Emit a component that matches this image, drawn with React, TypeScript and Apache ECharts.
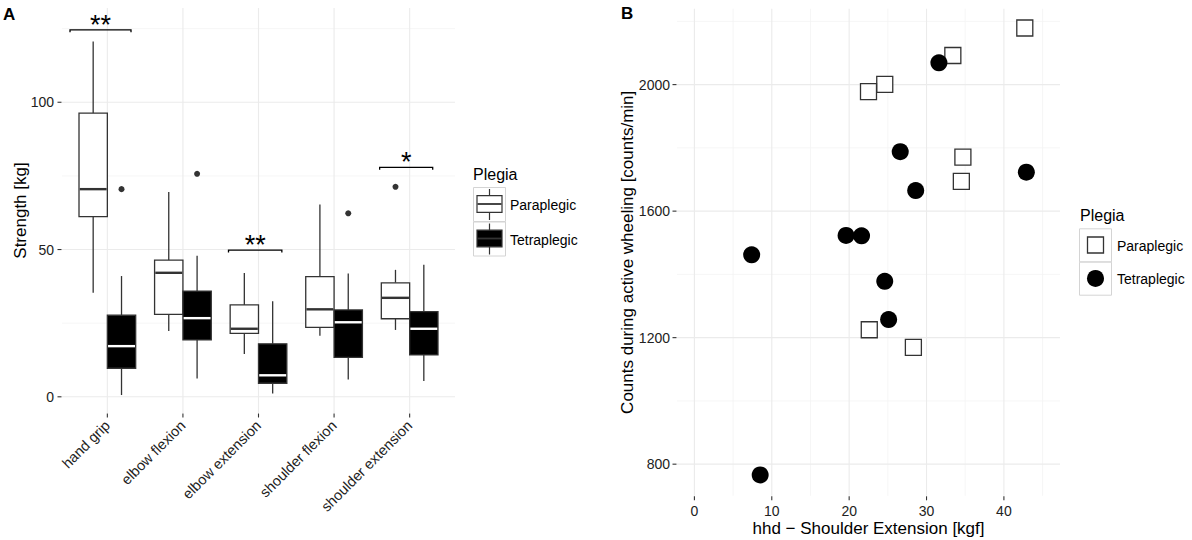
import React, { useEffect, useRef } from 'react';
import * as echarts from 'echarts';

// ---------- Panel A data ----------
const categories = ['hand grip', 'elbow flexion', 'elbow extension', 'shoulder flexion', 'shoulder extension'];
const groups = ['Paraplegic', 'Tetraplegic'];

const paraLow = [35.3, 22.3, 14.5, 20.7, 22.7];
const paraQ1 = [61.2, 28.0, 21.5, 23.6, 26.5];
const paraMed = [70.5, 42.1, 23.1, 29.7, 33.6];
const paraQ3 = [96.3, 46.4, 31.2, 40.8, 38.7];
const paraHigh = [120.6, 69.5, 42.0, 65.3, 43.1];

const tetraLow = [0.6, 6.2, 1.1, 5.9, 5.4];
const tetraQ1 = [9.7, 19.3, 4.6, 13.4, 14.2];
const tetraMed = [17.2, 26.7, 7.3, 25.3, 23.1];
const tetraQ3 = [27.7, 35.9, 18.0, 29.5, 28.9];
const tetraHigh = [41.0, 47.9, 32.4, 41.9, 44.8];

const paraOutlierCat = ['shoulder extension'];
const paraOutlierVal = [71.3];
const tetraOutlierCat = ['hand grip', 'elbow flexion', 'shoulder flexion'];
const tetraOutlierVal = [70.5, 75.7, 62.3];

const sigCategory = ['hand grip', 'elbow extension', 'shoulder extension'];
const sigHeight = [124.6, 49.8, 77.9];
const sigLeft = [-0.494, -0.397, -0.397];
const sigRight = [0.313, 0.309, 0.305];
const sigLabel = ['**', '**', '*'];

const strengthTicks = [0, 50, 100];
const strengthMinor = [25, 75, 125];

// ---------- Panel B data ----------
const paraX = [42.7, 33.4, 24.6, 22.5, 34.7, 34.5, 22.6, 28.3];
const paraY = [2179, 2092, 2001, 1978, 1771, 1694, 1225, 1169];
const tetraX = [31.6, 26.6, 42.9, 28.6, 19.6, 21.6, 7.4, 24.6, 25.1, 8.5];
const tetraY = [2069, 1788, 1723, 1665, 1523, 1522, 1462, 1378, 1257, 766];

const hhdTicks = [0, 10, 20, 30, 40];
const hhdMinor = [5, 15, 25, 35, 45];
const countTicks = [800, 1200, 1600, 2000];
const countMinor = [1000, 1400, 1800, 2200];

const FONT = '"Liberation Sans", Arial, Helvetica, sans-serif';
const DODGE = 0.1875;
const BOX_HALF = 0.1875;
const MAJOR = '#ebebeb';
const MINOR = '#f4f4f4';
const INK = '#333333';

function hLines(xi: number, yi: number, values: number[], color: string, width: number) {
  return {
    type: 'custom', xAxisIndex: xi, yAxisIndex: yi, silent: true, z: 1,
    data: values.map((v) => [0, v]),
    encode: { x: 0, y: 1 },
    renderItem: (params: any, api: any) => {
      const cs = params.coordSys;
      const y = api.coord([0, api.value(1)])[1];
      return { type: 'line', shape: { x1: cs.x, y1: y, x2: cs.x + cs.width, y2: y }, style: { stroke: color, lineWidth: width } };
    },
  };
}

function vLines(xi: number, yi: number, values: number[], color: string, width: number) {
  return {
    type: 'custom', xAxisIndex: xi, yAxisIndex: yi, silent: true, z: 1,
    data: values.map((v) => [v, 0]),
    encode: { x: 0, y: 1 },
    renderItem: (params: any, api: any) => {
      const cs = params.coordSys;
      const x = api.coord([api.value(0), 0])[0];
      return { type: 'line', shape: { x1: x, y1: cs.y, x2: x, y2: cs.y + cs.height }, style: { stroke: color, lineWidth: width } };
    },
  };
}

// axis tick marks outside the panel
function yTicks(xi: number, yi: number, values: number[]) {
  return {
    type: 'custom', xAxisIndex: xi, yAxisIndex: yi, silent: true, z: 2, clip: false,
    data: values.map((v) => [0, v]),
    encode: { x: 0, y: 1 },
    renderItem: (params: any, api: any) => {
      const cs = params.coordSys;
      const y = api.coord([0, api.value(1)])[1];
      return { type: 'line', shape: { x1: cs.x - 4.5, y1: y, x2: cs.x - 0.5, y2: y }, style: { stroke: INK, lineWidth: 1.1 } };
    },
  };
}

function xTicks(xi: number, yi: number, values: number[]) {
  return {
    type: 'custom', xAxisIndex: xi, yAxisIndex: yi, silent: true, z: 2, clip: false,
    data: values.map((v) => [v, 0]),
    encode: { x: 0, y: 1 },
    renderItem: (params: any, api: any) => {
      const cs = params.coordSys;
      const x = api.coord([api.value(0), 0])[0];
      const b = cs.y + cs.height;
      return { type: 'line', shape: { x1: x, y1: b + 0.5, x2: x, y2: b + 4.5 }, style: { stroke: INK, lineWidth: 1.1 } };
    },
  };
}

function boxSeries(name: string, low: number[], q1: number[], med: number[], q3: number[], high: number[], offset: number, fill: string, medColor: string) {
  return {
    type: 'custom', name, xAxisIndex: 0, yAxisIndex: 0, z: 3,
    data: categories.map((_, i) => [i, low[i], q1[i], med[i], q3[i], high[i]]),
    encode: { x: 0, y: [1, 2, 3, 4, 5] },
    renderItem: (params: any, api: any) => {
      const i = api.value(0);
      const unit = api.size([1, 0])[0];
      const half = unit * BOX_HALF;
      const cx = api.coord([i + offset, 0])[0];
      const yy = (k: number) => api.coord([i, api.value(k)])[1];
      const yLow = yy(1), yQ1 = yy(2), yMed = yy(3), yQ3 = yy(4), yHigh = yy(5);
      return {
        type: 'group',
        children: [
          { type: 'line', shape: { x1: cx, y1: yQ3, x2: cx, y2: yHigh }, style: { stroke: INK, lineWidth: 1.3 } },
          { type: 'line', shape: { x1: cx, y1: yLow, x2: cx, y2: yQ1 }, style: { stroke: INK, lineWidth: 1.3 } },
          { type: 'rect', shape: { x: cx - half, y: yQ3, width: 2 * half, height: yQ1 - yQ3 }, style: { fill, stroke: INK, lineWidth: 1.3 } },
          { type: 'line', shape: { x1: cx - half + 0.7, y1: yMed, x2: cx + half - 0.7, y2: yMed }, style: { stroke: medColor, lineWidth: 2.4 } },
        ],
      };
    },
  };
}

function outlierSeries(cats: string[], vals: number[], offset: number) {
  return {
    type: 'scatter', xAxisIndex: 0, yAxisIndex: 0, z: 4, symbol: 'circle', symbolSize: 6,
    itemStyle: { color: INK, opacity: 1 },
    data: cats.map((c, k) => [categories.indexOf(c) + offset, vals[k]]),
  };
}

const bracketSeries = {
  type: 'custom', xAxisIndex: 0, yAxisIndex: 0, z: 5,
  data: sigCategory.map((c, k) => [categories.indexOf(c), sigHeight[k], sigLeft[k], sigRight[k]]),
  encode: { x: 0, y: 1 },
  renderItem: (params: any, api: any) => {
    const i = api.value(0);
    const h = api.value(1);
    const p1 = api.coord([i + api.value(2), h]);
    const p2 = api.coord([i + api.value(3), h]);
    const drop = api.coord([i, h - 0.8])[1];
    return {
      type: 'group',
      children: [
        { type: 'polyline', shape: { points: [[p1[0], drop], [p1[0], p1[1]], [p2[0], p1[1]], [p2[0], drop]] }, style: { stroke: '#000', lineWidth: 1.3, fill: 'none' } },
        { type: 'text', x: (p1[0] + p2[0]) / 2, y: p1[1] - 5, style: { text: sigLabel[params.dataIndex], fill: '#000', font: `27px ${FONT}`, align: 'center', verticalAlign: 'middle' } },
      ],
    };
  },
};

function txt(text: string, x: number, y: number, size: number, opts: any = {}) {
  return {
    type: 'text', x, y, rotation: opts.rotation || 0, silent: true,
    style: { text, fill: opts.color || '#000', font: `${opts.bold ? 'bold ' : ''}${size}px ${FONT}`, align: opts.align || 'left', verticalAlign: 'middle' },
  };
}

function buildGraphics() {
  const g: any[] = [];
  g.push(txt('A', 3, 14, 17, { bold: true }));
  g.push(txt('B', 621, 13, 17, { bold: true }));
  g.push(txt('Strength [kg]', 20, 210.5, 17, { rotation: Math.PI / 2, align: 'center' }));
  g.push(txt('Counts during active wheeling [counts/min]', 627, 252.3, 17, { rotation: Math.PI / 2, align: 'center' }));
  g.push(txt('hhd \u2212 Shoulder Extension [kgf]', 868.5, 528, 17, { align: 'center' }));

  // Legend A
  g.push(txt('Plegia', 473, 174, 16));
  const keyA = [{ top: 187, fill: '#fff' }, { top: 221.5, fill: '#000' }];
  keyA.forEach((k, idx) => {
    const cy = k.top + 17;
    g.push({ type: 'rect', silent: true, shape: { x: 473.5, y: k.top + 0.5, width: 32, height: 34 }, style: { fill: '#fff', stroke: '#d4d4d4', lineWidth: 1 } });
    g.push({ type: 'line', silent: true, shape: { x1: 489.5, y1: k.top + 2, x2: 489.5, y2: k.top + 33 }, style: { stroke: INK, lineWidth: 1.2 } });
    g.push({ type: 'rect', silent: true, shape: { x: 477, y: cy - 8.3, width: 25, height: 16.6 }, style: { fill: k.fill, stroke: INK, lineWidth: 1.2 } });
    g.push({ type: 'line', silent: true, shape: { x1: 477.5, y1: cy, x2: 501.5, y2: cy }, style: { stroke: INK, lineWidth: 1.8 } });
    g.push(txt(groups[idx], 510, cy + 1, 14));
  });

  // Legend B
  g.push(txt('Plegia', 1080, 215, 16));
  [228.3, 261.7].forEach((top, idx) => {
    g.push({ type: 'rect', silent: true, shape: { x: 1079.5, y: top + 0.5, width: 32, height: 33 }, style: { fill: '#fff', stroke: '#d4d4d4', lineWidth: 1 } });
    g.push(txt(groups[idx], 1117, top + 17.5, 14));
  });
  g.push({ type: 'rect', silent: true, shape: { x: 1087.5, y: 237, width: 16, height: 16 }, style: { fill: '#fff', stroke: INK, lineWidth: 1.3 } });
  g.push({ type: 'circle', silent: true, shape: { cx: 1095.5, cy: 278.4, r: 8.5 }, style: { fill: '#000' } });
  return g;
}

const axisLabelStyle = { color: '#222', fontSize: 14, fontFamily: FONT };
const plain = (v: number) => String(v);

export default function App() {
  const ref = useRef<HTMLDivElement>(null);
  useEffect(() => {
    if (!ref.current) return;
    const chart = echarts.init(ref.current, null, { renderer: 'svg' });
    const catIdx = categories.map((_, i) => i);
    chart.setOption({
      animation: false,
      backgroundColor: '#fff',
      grid: [
        { left: 62, top: 8, width: 393, height: 405 },
        { left: 677, top: 8.7, width: 383, height: 487.1 },
      ],
      xAxis: [
        {
          gridIndex: 0, type: 'value', min: -0.6, max: 4.6,
          axisLine: { show: false }, splitLine: { show: false }, axisTick: { show: false },
          axisLabel: { ...axisLabelStyle, fontSize: 14.5, customValues: catIdx, rotate: 45, margin: 10, formatter: (v: number) => categories[Math.round(v)] ?? '' },
        },
        {
          gridIndex: 1, type: 'value', min: -2.25, max: 47.25,
          axisLine: { show: false }, splitLine: { show: false }, axisTick: { show: false },
          axisLabel: { ...axisLabelStyle, customValues: hhdTicks, margin: 8, formatter: plain },
        },
      ],
      yAxis: [
        {
          gridIndex: 0, type: 'value', min: -5.5, max: 132,
          axisLine: { show: false }, splitLine: { show: false }, axisTick: { show: false },
          axisLabel: { ...axisLabelStyle, customValues: strengthTicks, margin: 8, formatter: plain },
        },
        {
          gridIndex: 1, type: 'value', min: 700, max: 2240,
          axisLine: { show: false }, splitLine: { show: false }, axisTick: { show: false },
          axisLabel: { ...axisLabelStyle, customValues: countTicks, margin: 7, formatter: plain },
        },
      ],
      series: [
        hLines(0, 0, strengthMinor, MINOR, 0.8),
        hLines(0, 0, strengthTicks, MAJOR, 1.1),
        vLines(0, 0, catIdx, MAJOR, 1.1),
        yTicks(0, 0, strengthTicks),
        xTicks(0, 0, catIdx),
        hLines(1, 1, countMinor, MINOR, 0.8),
        vLines(1, 1, hhdMinor, MINOR, 0.8),
        hLines(1, 1, countTicks, MAJOR, 1.1),
        vLines(1, 1, hhdTicks, MAJOR, 1.1),
        yTicks(1, 1, countTicks),
        xTicks(1, 1, hhdTicks),
        boxSeries(groups[0], paraLow, paraQ1, paraMed, paraQ3, paraHigh, -DODGE, '#fff', INK),
        boxSeries(groups[1], tetraLow, tetraQ1, tetraMed, tetraQ3, tetraHigh, DODGE, '#000', '#fff'),
        outlierSeries(paraOutlierCat, paraOutlierVal, -DODGE),
        outlierSeries(tetraOutlierCat, tetraOutlierVal, DODGE),
        bracketSeries,
        {
          type: 'scatter', name: groups[0], xAxisIndex: 1, yAxisIndex: 1, z: 3, symbol: 'rect', symbolSize: 16,
          itemStyle: { color: '#fff', borderColor: INK, borderWidth: 1.3, opacity: 1 },
          data: paraX.map((x, i) => [x, paraY[i]]),
        },
        {
          type: 'scatter', name: groups[1], xAxisIndex: 1, yAxisIndex: 1, z: 4, symbol: 'circle', symbolSize: 17,
          itemStyle: { color: '#000', opacity: 1 },
          data: tetraX.map((x, i) => [x, tetraY[i]]),
        },
      ],
      graphic: buildGraphics(),
    });
    return () => chart.dispose();
  }, []);
  return <div ref={ref} style={{ position: 'absolute', left: 0, top: 0, width: 1192, height: 540, background: '#fff' }} />;
}
